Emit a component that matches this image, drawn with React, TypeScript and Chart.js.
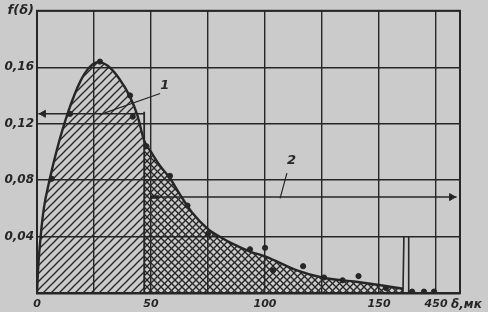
import { useEffect, useRef } from "react";
import { Chart, registerables } from "chart.js";

Chart.register(...registerables);

// ---- data ----
const xTicks = [0, 25, 50, 75, 100, 125, 150, 175];
const xTickLabels: Record<number, string> = { 0: "0", 50: "50", 100: "100", 150: "150", 175: "450" };
const yTicks = [0, 0.04, 0.08, 0.12, 0.16, 0.2];
const yTickLabels = ["", "0,04", "0,08", "0,12", "0,16", "f(δ)"];
const xMax = 185.5;
const xUnit = "δ,мк";

const curveX = [0, 0.6, 1.6, 3, 5.5, 8.8, 13.6, 19, 23, 27, 31, 36, 40.8, 44, 47, 50, 54, 58, 63, 68, 74.5, 80, 85, 94, 100, 107, 114, 125, 140, 150, 160.5];
const curveY = [0, 0.02, 0.04, 0.06, 0.08, 0.102, 0.128, 0.15, 0.16, 0.1636, 0.161, 0.152, 0.139, 0.126, 0.108, 0.1, 0.09, 0.082, 0.069, 0.057, 0.046, 0.04, 0.0355, 0.029, 0.026, 0.021, 0.016, 0.011, 0.008, 0.0057, 0.003];
const splitX = 47; // boundary between hatched zones 1 and 2

const dotsX = [6.5, 14.5, 27.6, 40.8, 42, 48, 58.3, 66, 75, 93.4, 100, 103.5, 116.7, 125.9, 134, 141, 153, 164.5, 169.7, 174.1];
const dotsY = [0.081, 0.127, 0.164, 0.14, 0.125, 0.104, 0.083, 0.062, 0.042, 0.031, 0.032, 0.016, 0.019, 0.011, 0.009, 0.012, 0.0036, 0.001, 0.001, 0.001];

const breakLeftX = [160.5, 160.9];
const breakRightX = [162.8, 163.0];
const breakY = [0, 0.04];

const arrow1X = [splitX, 0.6];
const arrow1Y = 0.127;
const tick1Y = [0, 0.1285];
const arrow2X = [50, 184];
const arrow2Y = 0.068;
const arrow2StubX = [50, 53.5];

const leader1X = [54, 27.6];
const leader1Y = [0.1414, 0.1264];
const leader2X = [109.6, 106.6];
const leader2Y = [0.085, 0.067];

const notesText = ["1", "2"];
const notesX = [56, 111.6];
const notesY = [0.147, 0.094];

// ---- styles ----
const ink = "#262626";
const paper = "#cbcbcb";

function makePattern(cross: boolean, size: number): CanvasPattern | string {
  const c = document.createElement("canvas");
  c.width = size;
  c.height = size;
  const g = c.getContext("2d");
  if (!g) return ink;
  g.strokeStyle = ink;
  g.lineWidth = 1.3;
  const seg = (x1: number, y1: number, x2: number, y2: number) => {
    g.beginPath();
    g.moveTo(x1, y1);
    g.lineTo(x2, y2);
    g.stroke();
  };
  seg(-1, size + 1, size + 1, -1);
  seg(-1, 1, 1, -1);
  seg(size - 1, size + 1, size + 1, size - 1);
  if (cross) {
    seg(-1, -1, size + 1, size + 1);
    seg(size - 1, -1, size + 1, 1);
    seg(-1, size - 1, 1, size + 1);
  }
  return g.createPattern(c, "repeat") || ink;
}

const pts = (xs: number[], ys: number[]) => xs.map((x, i) => ({ x, y: ys[i] }));

export default function App() {
  const ref = useRef<HTMLCanvasElement | null>(null);

  useEffect(() => {
    const canvas = ref.current;
    if (!canvas) return;
    document.body.style.margin = "0";

    const curve = pts(curveX, curveY);
    const zone1 = curve.filter((p) => p.x <= splitX);
    const zone2 = curve.filter((p) => p.x >= splitX);

    const lineDs = (data: { x: number; y: number }[], width: number, order = 3) => ({
      type: "line" as const,
      data,
      borderColor: ink,
      borderWidth: width,
      pointRadius: 0,
      fill: false,
      tension: 0,
      order,
    });

    const font = { family: "'DejaVu Sans'", style: "italic" as const, weight: "bold" as const, size: 12 };
    const xFont = { family: "'DejaVu Sans'", style: "italic" as const, weight: "bold" as const, size: 11 };
    const bigFont = { family: "'DejaVu Sans'", style: "italic" as const, weight: "bold" as const, size: 13 };

    const textPlugin = {
      id: "notes",
      afterDraw(chart: Chart) {
        const { ctx, chartArea } = chart;
        const xs = chart.scales.x;
        const ys = chart.scales.y;
        ctx.save();
        ctx.strokeStyle = ink;
        ctx.lineWidth = 2;
        ctx.strokeRect(chartArea.left, chartArea.top, chartArea.right - chartArea.left, chartArea.bottom - chartArea.top);
        ctx.fillStyle = ink;
        ctx.font = "italic bold 13px 'DejaVu Sans'";
        ctx.textAlign = "center";
        ctx.textBaseline = "middle";
        notesText.forEach((t, i) => {
          ctx.fillText(t, xs.getPixelForValue(notesX[i]), ys.getPixelForValue(notesY[i]));
        });
        ctx.font = "italic bold 12px 'DejaVu Sans'";
        ctx.textAlign = "left";
        ctx.fillText(xUnit, xs.getPixelForValue(175) + 15, chartArea.bottom + 12);
        ctx.restore();
      },
    };

    const chart = new Chart(canvas, {
      type: "scatter",
      data: {
        datasets: [
          {
            type: "scatter",
            data: pts(dotsX, dotsY),
            backgroundColor: ink,
            borderColor: ink,
            pointRadius: 2.6,
            order: 1,
          },
          {
            type: "line",
            data: curve,
            borderColor: ink,
            borderWidth: 2.4,
            pointRadius: 0,
            cubicInterpolationMode: "monotone",
            fill: false,
            order: 2,
          },
          {
            type: "line",
            data: zone1,
            borderWidth: 0,
            borderColor: "rgba(0,0,0,0)",
            pointRadius: 0,
            cubicInterpolationMode: "monotone",
            fill: "origin",
            backgroundColor: makePattern(false, 8),
            order: 10,
          },
          {
            type: "line",
            data: zone2,
            borderWidth: 0,
            borderColor: "rgba(0,0,0,0)",
            pointRadius: 0,
            cubicInterpolationMode: "monotone",
            fill: "origin",
            backgroundColor: makePattern(true, 7),
            order: 10,
          },
          lineDs(pts([splitX, splitX], tick1Y), 1.8),
          lineDs(pts(breakLeftX, breakY), 1.6),
          lineDs(pts(breakRightX, breakY), 1.6),
          lineDs(pts(arrow1X, [arrow1Y, arrow1Y]), 1.6),
          lineDs(pts(arrow2X, [arrow2Y, arrow2Y]), 1.6),
          lineDs(pts(arrow2StubX, [arrow2Y, arrow2Y]), 3.5),
          lineDs(pts(leader1X, leader1Y), 1.2),
          lineDs(pts(leader2X, leader2Y), 1.2),
          {
            type: "scatter",
            data: [
              { x: arrow1X[1] + 2.2, y: arrow1Y },
              { x: arrow2X[1] - 2.2, y: arrow2Y },
            ],
            pointStyle: "triangle",
            rotation: [270, 90],
            pointRadius: 4,
            backgroundColor: ink,
            borderColor: ink,
            order: 1,
          },
        ],
      },
      options: {
        responsive: false,
        animation: false,
        layout: { padding: { top: 10, right: 28, left: 0, bottom: 0 } },
        plugins: { legend: { display: false }, tooltip: { enabled: false } },
        scales: {
          x: {
            type: "linear",
            min: 0,
            max: xMax,
            afterBuildTicks: (axis: any) => {
              axis.ticks = xTicks.map((v) => ({ value: v }));
            },
            afterFit: (axis: any) => {
              axis.height = 19;
            },
            grid: { color: ink, lineWidth: 1.4, drawTicks: false },
            border: { color: ink, width: 2.6 },
            ticks: {
              padding: 5,
              color: ink,
              font: xFont,
              maxRotation: 0,
              autoSkip: false,
              callback: (v: any) => xTickLabels[Number(v)] ?? "",
            },
          },
          y: {
            type: "linear",
            min: 0,
            max: 0.2,
            afterBuildTicks: (axis: any) => {
              axis.ticks = yTicks.map((v) => ({ value: v }));
            },
            afterFit: (axis: any) => {
              axis.width = 37;
            },
            grid: { color: ink, lineWidth: 1.4, drawTicks: false },
            border: { color: ink, width: 2 },
            ticks: {
              padding: 3,
              color: ink,
              font: (c: any) => (c.index === yTicks.length - 1 ? bigFont : font),
              autoSkip: false,
              callback: (_v: any, i: number) => yTickLabels[i] ?? "",
            },
          },
        },
      },
      plugins: [textPlugin],
    } as any);

    return () => chart.destroy();
  }, []);

  return (
    <div style={{ position: "fixed", left: 0, top: 0, width: 488, height: 312, background: paper }}>
      <canvas ref={ref} width={488} height={312} />
    </div>
  );
}
